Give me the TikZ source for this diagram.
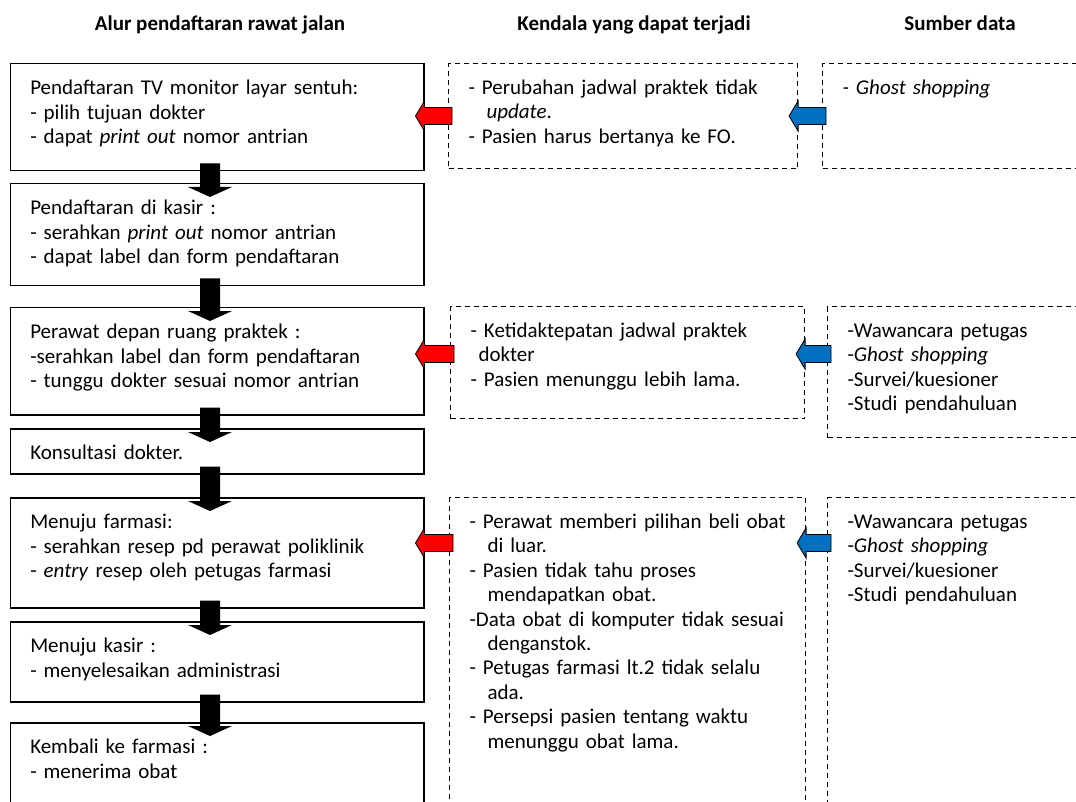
\documentclass[tikz,border=0pt]{standalone}
\usepackage{fontspec}
\setmainfont{Carlito}
\usetikzlibrary{calc}

% block arrow pointing down, between two flow boxes
\newcommand{\downblock}[2]{%
  \fill let \p1=(#1.south), \p2=(#2.north) in
    (\x1-17pt,\y1+8pt) -- (\x1+3pt,\y1+8pt) -- (\x1+3pt,\y2-4pt) -- (\x1+15pt,\y2-4pt)
    -- (\x1-7pt,\y2-14pt) -- (\x1-29pt,\y2-4pt) -- (\x1-17pt,\y2-4pt) -- cycle;}
% block arrow pointing left: colour, row, from, to
\newcommand{\sideblock}[4]{%
  \filldraw[fill=#1, line width=0.9pt]
    let \p1=(#4.east |- #2), \p2=(#3.west |- #2) in
    (\x1-9pt,\y1) -- (\x1,\y1+15pt) -- (\x1,\y1+8.5pt) -- (\x2+4pt,\y1+8.5pt)
    -- (\x2+4pt,\y1-8.5pt) -- (\x1,\y1-8.5pt) -- (\x1,\y1-15pt) -- cycle;}

\definecolor{arrowred}{RGB}{255,0,0}
\definecolor{arrowblue}{RGB}{0,112,192}

\begin{document}
\begin{tikzpicture}[x=1pt, y=-1pt,
  every node/.style={font=\fontsize{21}{24.4}\selectfont},
  head/.style={font=\fontsize{21}{24.4}\selectfont\bfseries, anchor=base},
  flowbox/.style={draw, line width=1.5pt, anchor=north west, align=left,
    inner xsep=20pt, inner ysep=0pt, text height=31pt, text width=373.5pt},
  trouble/.style={draw, line width=1.1pt, dash pattern=on 5pt off 4pt,
    anchor=north west, align=left, inner xsep=20pt, inner ysep=0pt, text height=31pt}]
\useasboundingbox (0,0) rectangle (1076,802);

\node[head] (alur) at (220,31) {Alur pendaftaran rawat jalan};
\node[head] (kendala) at (634,31) {Kendala yang dapat terjadi};
\node[head] (sumber) at (960,31) {Sumber data};

% alur
\node[flowbox, text depth=76pt] (tvmon) at (9.5,63) {Pendaftaran TV monitor layar sentuh:\\- pilih tujuan dokter\\- dapat \textit{print out} nomor antrian};
\node[flowbox, text depth=71pt] (kasir) at (9.5,183) {Pendaftaran di kasir :\\- serahkan \textit{print out} nomor antrian\\- dapat label dan form pendaftaran};
\node[flowbox, text depth=76pt] (perawat) at (9.5,307) {Perawat depan ruang praktek :\\-serahkan label dan form pendaftaran\\- tunggu dokter sesuai nomor antrian};
\node[flowbox, text depth=14pt] (konsul) at (9.5,428) {Konsultasi dokter.};
\node[flowbox, text depth=79pt] (farmasi) at (9.5,497) {Menuju farmasi:\\- serahkan resep pd perawat poliklinik\\- \textit{entry} resep oleh petugas farmasi};
\node[flowbox, text depth=49pt] (bayar) at (9.5,621) {Menuju kasir :\\- menyelesaikan administrasi};
\node[flowbox, text depth=79pt] (kembali) at (9.5,722) {Kembali ke farmasi :\\- menerima obat};

% kendala
\node[trouble, text width=309pt, text depth=74pt] (ubah) at (448,63) {- Perubahan jadwal praktek tidak\\\hspace*{18pt}\textit{update}.\\- Pasien harus bertanya ke FO.};
\node[trouble, text width=314pt, text depth=81pt] (tepat) at (450,306) {- Ketidaktepatan jadwal praktek\\\hspace*{8pt}dokter\\- Pasien menunggu lebih lama.};
\node[trouble, text width=316pt, text depth=302pt] (obat) at (449,497) {\mbox{- Perawat memberi pilihan beli obat}\\\hspace*{18pt}di luar.\\- Pasien tidak tahu proses\\\hspace*{18pt}mendapatkan obat.\\\mbox{-Data obat di komputer tidak sesuai}\\\hspace*{18pt}denganstok.\\- Petugas farmasi lt.2 tidak selalu\\\hspace*{18pt}ada.\\- Persepsi pasien tentang waktu\\\hspace*{18pt}menunggu obat lama.};

% sumber
\node[trouble, text width=228pt, text depth=74pt] (ghost) at (822,63) {\textit{- Ghost shopping}};
\node[trouble, text width=223pt, text depth=100pt] (data) at (827,306) {-Wawancara petugas\\-\textit{Ghost shopping}\\-Survei/kuesioner\\-Studi pendahuluan};
\node[trouble, text width=223pt, text depth=302pt] (datb) at (827,497) {-Wawancara petugas\\-\textit{Ghost shopping}\\-Survei/kuesioner\\-Studi pendahuluan};

\coordinate (rowa) at (0,116);
\coordinate (rowb) at (0,354);
\coordinate (rowc) at (0,543);

\downblock{tvmon}{kasir}
\downblock{kasir}{perawat}
\downblock{perawat}{konsul}
\downblock{konsul}{farmasi}
\downblock{farmasi}{bayar}
\downblock{bayar}{kembali}

\sideblock{arrowred}{rowa}{ubah}{tvmon}
\sideblock{arrowred}{rowb}{tepat}{perawat}
\sideblock{arrowred}{rowc}{obat}{farmasi}
\sideblock{arrowblue}{rowa}{ghost}{ubah}
\sideblock{arrowblue}{rowb}{data}{tepat}
\sideblock{arrowblue}{rowc}{datb}{obat}
\end{tikzpicture}
\end{document}
